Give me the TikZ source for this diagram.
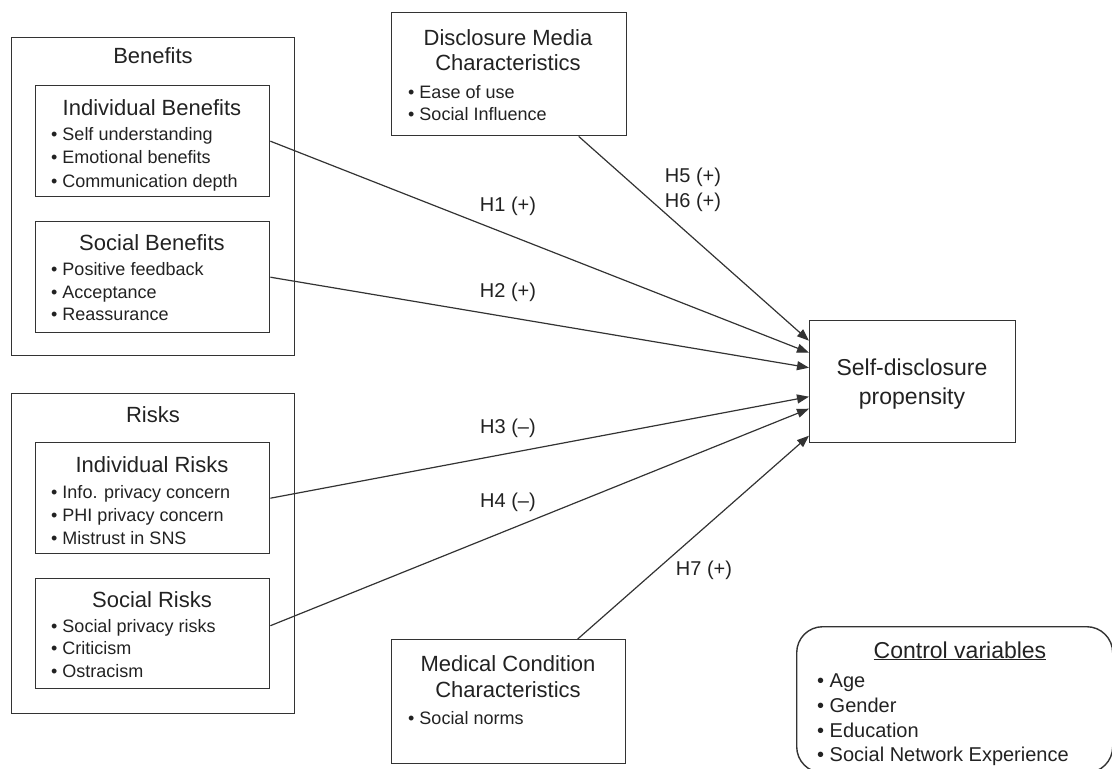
\documentclass[tikz,border=0pt]{standalone}
\usepackage{fontspec}
\setmainfont{Liberation Sans}
\usetikzlibrary{arrows.meta}
\definecolor{linec}{HTML}{333333}
\definecolor{txtc}{HTML}{222222}
\begin{document}
\begin{tikzpicture}[x=1pt,y=-1pt,
  frame/.style={draw=linec,line width=1.4pt,anchor=north west,inner sep=0pt},
  txt/.style={inner sep=0pt,text=txtc},
  ttl/.style={txt,font=\fontsize{22}{26}\selectfont,anchor=base},
  itm/.style={txt,font=\fontsize{18}{22}\selectfont,anchor=base west},
  citm/.style={txt,font=\fontsize{20}{24}\selectfont,anchor=base west},
  hlab/.style={txt,font=\fontsize{20}{24}\selectfont,anchor=base},
  arr/.style={draw=linec,line width=1.2pt,-{Triangle[length=12pt,width=9pt]}}]
\useasboundingbox (0,0) rectangle (1112,769);
\clip (0,0) rectangle (1112,769);

% Benefits
\node[frame,minimum width=283pt,minimum height=318pt] (ben) at (11,37) {};
\node[ttl] (bent) at (153,63) {Benefits};
\node[frame,minimum width=234pt,minimum height=111pt] (ib) at (35,85) {};
\node[ttl] (ibt) at (152,115) {Individual Benefits};
\node[itm] (ib1) at (51,140) {• Self understanding};
\node[itm] (ib2) at (51,163) {• Emotional benefits};
\node[itm] (ib3) at (51,187) {• Communication depth};
\node[frame,minimum width=234pt,minimum height=111pt] (sb) at (35,221) {};
\node[ttl] (sbt) at (152,250) {Social Benefits};
\node[itm] (sb1) at (51,275) {• Positive feedback};
\node[itm] (sb2) at (51,298) {• Acceptance};
\node[itm] (sb3) at (51,320) {• Reassurance};

% Risks
\node[frame,minimum width=283pt,minimum height=320pt] (risk) at (11,393) {};
\node[ttl] (riskt) at (153,422) {Risks};
\node[frame,minimum width=234pt,minimum height=111pt] (ir) at (35,442) {};
\node[ttl] (irt) at (152,472) {Individual Risks};
\node[itm] (ir1) at (51,498) {• Info. privacy concern};
\node[itm] (ir2) at (51,521) {• PHI privacy concern};
\node[itm] (ir3) at (51,544) {• Mistrust in SNS};
\node[frame,minimum width=234pt,minimum height=110pt] (sr) at (35,578) {};
\node[ttl] (srt) at (152,607) {Social Risks};
\node[itm] (sr1) at (51,632) {• Social privacy risks};
\node[itm] (sr2) at (51,654) {• Criticism};
\node[itm] (sr3) at (51,677) {• Ostracism};

% Disclosure media
\node[frame,minimum width=235pt,minimum height=123pt] (dm) at (391,12) {};
\node[ttl] (dmt1) at (508,45) {Disclosure Media};
\node[ttl] (dmt2) at (508,70) {Characteristics};
\node[itm] (dm1) at (408,98) {• Ease of use};
\node[itm] (dm2) at (408,120) {• Social Influence};

% Medical condition
\node[frame,minimum width=234pt,minimum height=124pt] (mc) at (391,639) {};
\node[ttl] (mct1) at (508,671) {Medical Condition};
\node[ttl] (mct2) at (508,697) {Characteristics};
\node[itm] (mc1) at (408,724) {• Social norms};

% Self-disclosure
\node[frame,minimum width=206pt,minimum height=122pt] (sd) at (809,320) {};
\node[txt,font=\fontsize{23}{27}\selectfont,anchor=base] (sdt1) at (912,375) {Self-disclosure};
\node[txt,font=\fontsize{23}{27}\selectfont,anchor=base] (sdt2) at (912,404) {propensity};

% Control variables
\node[frame,rounded corners=26pt,minimum width=316pt,minimum height=146pt] (cv) at (796,626) {};
\node[txt,font=\fontsize{23}{27}\selectfont,anchor=base] (cvt) at (960,658) {\underline{Control variables}};
\node[citm] (cv1) at (817,687) {• Age};
\node[citm] (cv2) at (817,712) {• Gender};
\node[citm] (cv3) at (817,737) {• Education};
\node[citm] (cv4) at (817,761) {• Social Network Experience};

% Arrows
\draw[arr] (ib.east) -- ([yshift=29pt]sd.west);
\draw[arr] (sb.east) -- ([yshift=14pt]sd.west);
\draw[arr] (ir.east) -- ([yshift=-15pt]sd.west);
\draw[arr] ([yshift=8pt]sr.east) -- ([yshift=-27pt]sd.west);
\draw[arr] ([xshift=69.5pt]dm.south) -- ([yshift=41pt]sd.west);
\draw[arr] ([xshift=69pt]mc.north) -- ([yshift=-54pt]sd.west);

% Labels
\node[hlab] (h1) at (508,211) {H1 (+)};
\node[hlab] (h2) at (508,297) {H2 (+)};
\node[hlab] (h3) at (508,433) {H3 (–)};
\node[hlab] (h4) at (508,507) {H4 (–)};
\node[hlab] (h5) at (693,182) {H5 (+)};
\node[hlab] (h6) at (693,207) {H6 (+)};
\node[hlab] (h7) at (704,575) {H7 (+)};
\end{tikzpicture}
\end{document}
